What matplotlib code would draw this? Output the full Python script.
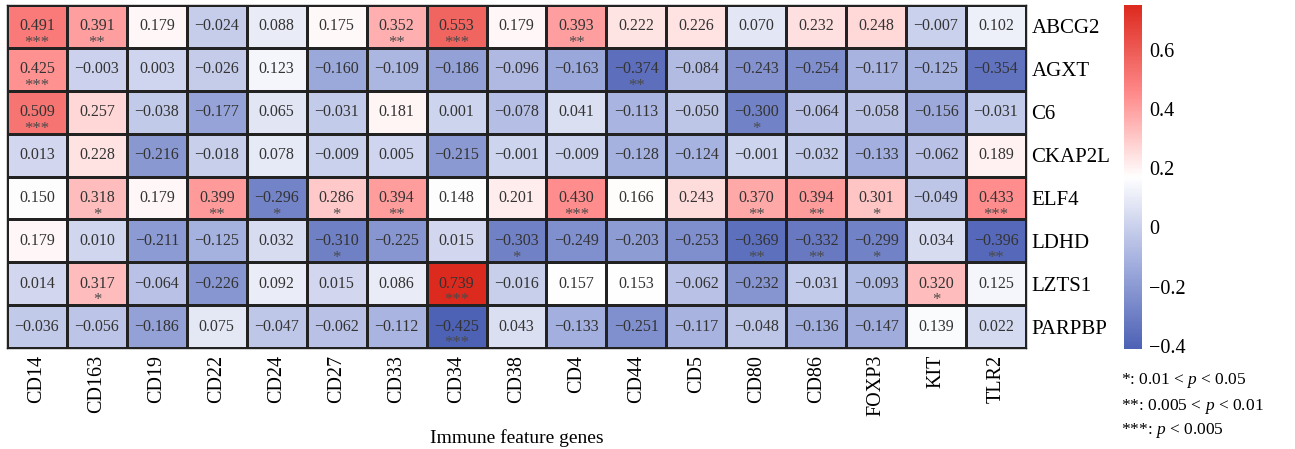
import matplotlib
matplotlib.use('Agg')
import matplotlib.pyplot as plt
import numpy as np
from matplotlib.colors import LinearSegmentedColormap, Normalize
from matplotlib.cm import ScalarMappable

plt.rcParams['font.family'] = ['Liberation Serif', 'DejaVu Serif']
plt.rcParams['mathtext.fontset'] = 'custom'
plt.rcParams['mathtext.rm'] = 'Liberation Serif'
plt.rcParams['mathtext.it'] = 'Liberation Serif:italic'

rows = ['ABCG2', 'AGXT', 'C6', 'CKAP2L', 'ELF4', 'LDHD', 'LZTS1', 'PARPBP']
cols = ['CD14', 'CD163', 'CD19', 'CD22', 'CD24', 'CD27', 'CD33', 'CD34', 'CD38',
        'CD4', 'CD44', 'CD5', 'CD80', 'CD86', 'FOXP3', 'KIT', 'TLR2']

abcg2 = [0.491, 0.391, 0.179, -0.024, 0.088, 0.175, 0.352, 0.553, 0.179, 0.393, 0.222, 0.226, 0.070, 0.232, 0.248, -0.007, 0.102]
agxt = [0.425, -0.003, 0.003, -0.026, 0.123, -0.160, -0.109, -0.186, -0.096, -0.163, -0.374, -0.084, -0.243, -0.254, -0.117, -0.125, -0.354]
c6 = [0.509, 0.257, -0.038, -0.177, 0.065, -0.031, 0.181, 0.001, -0.078, 0.041, -0.113, -0.050, -0.300, -0.064, -0.058, -0.156, -0.031]
ckap2l = [0.013, 0.228, -0.216, -0.018, 0.078, -0.009, 0.005, -0.215, -0.001, -0.009, -0.128, -0.124, -0.001, -0.032, -0.133, -0.062, 0.189]
elf4 = [0.150, 0.318, 0.179, 0.399, -0.296, 0.286, 0.394, 0.148, 0.201, 0.430, 0.166, 0.243, 0.370, 0.394, 0.301, -0.049, 0.433]
ldhd = [0.179, 0.010, -0.211, -0.125, 0.032, -0.310, -0.225, 0.015, -0.303, -0.249, -0.203, -0.253, -0.369, -0.332, -0.299, 0.034, -0.396]
lzts1 = [0.014, 0.317, -0.064, -0.226, 0.092, 0.015, 0.086, 0.739, -0.016, 0.157, 0.153, -0.062, -0.232, -0.031, -0.093, 0.320, 0.125]
parpbp = [-0.036, -0.056, -0.186, 0.075, -0.047, -0.062, -0.112, -0.425, 0.043, -0.133, -0.251, -0.117, -0.048, -0.136, -0.147, 0.139, 0.022]

# significance marks: (row, col) -> stars
stars = {
    ('ABCG2', 'CD14'): '***', ('ABCG2', 'CD163'): '**', ('ABCG2', 'CD33'): '**',
    ('ABCG2', 'CD34'): '***', ('ABCG2', 'CD4'): '**',
    ('AGXT', 'CD14'): '***', ('AGXT', 'CD44'): '**',
    ('C6', 'CD14'): '***', ('C6', 'CD80'): '*',
    ('ELF4', 'CD163'): '*', ('ELF4', 'CD22'): '**', ('ELF4', 'CD24'): '*',
    ('ELF4', 'CD27'): '*', ('ELF4', 'CD33'): '**', ('ELF4', 'CD4'): '***',
    ('ELF4', 'CD80'): '**', ('ELF4', 'CD86'): '**', ('ELF4', 'FOXP3'): '*',
    ('ELF4', 'TLR2'): '***',
    ('LDHD', 'CD27'): '*', ('LDHD', 'CD38'): '*', ('LDHD', 'CD80'): '**',
    ('LDHD', 'CD86'): '**', ('LDHD', 'FOXP3'): '*', ('LDHD', 'TLR2'): '**',
    ('LZTS1', 'CD163'): '*', ('LZTS1', 'CD34'): '***', ('LZTS1', 'KIT'): '*',
    ('PARPBP', 'CD34'): '***',
}

vals = np.array([abcg2, agxt, c6, ckap2l, elf4, ldhd, lzts1, parpbp])

cmap = LinearSegmentedColormap.from_list(
    'bwr_custom',
    [(0.0, '#4d61b5'), (0.25, '#a3afde'), (0.5, '#ffffff'),
     (0.74, '#ff8c8c'), (1.0, '#dc2a1e')])
norm = Normalize(vmin=vals.min(), vmax=vals.max())

fig = plt.figure(figsize=(12.95, 4.49), dpi=100)
ax = fig.add_axes([7 / 1295, 1 - 348 / 449, (1026 - 7) / 1295, (348 - 5) / 449])

mesh = ax.pcolormesh(vals, cmap=cmap, norm=norm, edgecolors='#222222', linewidth=0.9)
ax.set_xlim(0, len(cols))
ax.set_ylim(len(rows), 0)

for i, r in enumerate(rows):
    for j, c in enumerate(cols):
        v = vals[i, j]
        txt = ('%.3f' % v).replace('-', '\u2212')
        ax.text(j + 0.5, i + 0.5, txt, ha='center', va='center', fontsize=11.5, color='#333333')
        s = stars.get((r, c))
        if s:
            ax.text(j + 0.5, i + 0.89, s, ha='center', va='center', fontsize=12, color='#4a4a4a')

ax.set_xticks(np.arange(len(cols)) + 0.5)
ax.set_xticklabels(cols, rotation=90, fontsize=14.5, va='top')
ax.set_yticks(np.arange(len(rows)) + 0.5)
ax.set_yticklabels(rows, fontsize=15)
ax.yaxis.tick_right()
ax.tick_params(length=0, pad=4)
ax.tick_params(axis='x', pad=5)
for sp in ax.spines.values():
    sp.set_color('#222222')
    sp.set_linewidth(1.0)

ax.set_xlabel('Immune feature genes', fontsize=14, labelpad=9)

# colour bar (its scale runs a little past the data range, as in the original)
cax = fig.add_axes([1124 / 1295, 1 - 349 / 449, 18 / 1295, (349 - 5) / 449])
cb = fig.colorbar(ScalarMappable(norm=Normalize(-0.411, 0.752), cmap=cmap), cax=cax)
cb.outline.set_visible(False)
cb.set_ticks([-0.4, -0.2, 0, 0.2, 0.4, 0.6])
cb.set_ticklabels(['\u22120.4', '\u22120.2', '0', '0.2', '0.4', '0.6'])
cax.tick_params(length=0, labelsize=14.5, pad=5)

leg = ['*: 0.01 < $p$ < 0.05', '**: 0.005 < $p$ < 0.01', '***: $p$ < 0.005']
for k, t in enumerate(leg):
    fig.text(1121 / 1295, 1 - (381 + 25 * k) / 449, t, fontsize=12.5, va='center', ha='left')

fig.savefig('out.png', dpi=100)
